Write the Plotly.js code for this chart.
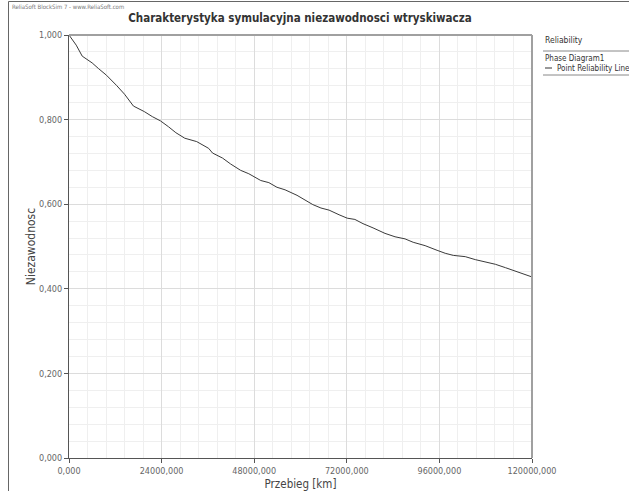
<!DOCTYPE html>
<html>
<head>
<meta charset="utf-8">
<script src="https://cdn.plot.ly/plotly-3.0.1.min.js"></script>
<style>html,body{margin:0;padding:0;background:#fff;}#chart{width:629px;height:491px;}</style>
</head>
<body>
<div id="chart"></div>
<script>
// Data
const przebiegKm = [0, 1.87e6, 3.43e6, 6.0e6, 7.6e6, 9.7e6, 12.3e6, 14.4e6, 16.7e6, 19.5e6, 21.6e6, 23.7e6, 25.8e6, 27.7e6, 30.0e6, 33.1e6, 36.2e6, 37.2e6, 39.8e6, 41.9e6, 44.5e6, 46.6e6, 49.7e6, 51.8e6, 53.9e6, 56.0e6, 59.1e6, 61.1e6, 63.2e6, 65.3e6, 67.4e6, 70.0e6, 72.1e6, 74.1e6, 76.2e6, 78.8e6, 81.9e6, 84.5e6, 87.1e6, 89.2e6, 92.3e6, 95.4e6, 97.5e6, 99.6e6, 102.7e6, 105.3e6, 107.9e6, 110.5e6, 113.1e6, 115.7e6, 117.8e6, 120e6];
const niezawodnosc = [1.0, 0.976, 0.950, 0.934, 0.921, 0.905, 0.881, 0.860, 0.832, 0.819, 0.807, 0.797, 0.783, 0.769, 0.756, 0.748, 0.732, 0.721, 0.709, 0.695, 0.680, 0.672, 0.656, 0.651, 0.640, 0.634, 0.621, 0.611, 0.599, 0.591, 0.586, 0.575, 0.567, 0.564, 0.554, 0.544, 0.531, 0.523, 0.518, 0.510, 0.502, 0.491, 0.484, 0.479, 0.476, 0.469, 0.463, 0.458, 0.450, 0.442, 0.436, 0.428];
const xTickVals = [0, 24000000, 48000000, 72000000, 96000000, 120000000];
const xTickText = ['0,000', '24000,000', '48000,000', '72000,000', '96000,000', '120000,000'];
const yTickVals = [0, 0.2, 0.4, 0.6, 0.8, 1.0];
const yTickText = ['0,000', '0,200', '0,400', '0,600', '0,800', '1,000'];

const W = 629, H = 491;
const L = 69, R = 532, T = 35, B = 458;
const px = x => (x - L) / (R - L);
const py = y => (B - y) / (B - T);
const FONT = 'DejaVu Sans Condensed, DejaVu Sans, sans-serif';

const trace = {
  x: przebiegKm, y: niezawodnosc, type: 'scatter', mode: 'lines',
  line: {color: '#3a3a3a', width: 1}, showlegend: false, hoverinfo: 'skip'
};

const layout = {
  width: W, height: H,
  margin: {l: L, r: W - R, t: T, b: H - B, pad: 0},
  paper_bgcolor: '#ffffff', plot_bgcolor: '#ffffff',
  showlegend: false,
  font: {family: FONT, color: '#555', size: 9},
  title: {text: 'Charakterystyka symulacyjna niezawodnosci wtryskiwacza',
          font: {family: FONT, size: 11.5, color: '#333', weight: 'bold'},
          x: px(300), xref: 'paper', xanchor: 'center', y: 1 - 18 / H, yanchor: 'middle'},
  xaxis: {
    range: [0, 120000000], tickvals: xTickVals, ticktext: xTickText,
    showline: true, linecolor: '#555', linewidth: 1,
    ticks: 'outside', ticklen: 4, tickcolor: '#555',
    showgrid: true, gridcolor: '#dcdcdc', gridwidth: 1, zeroline: false,
    minor: {dtick: 4800000, showgrid: true, gridcolor: '#efefef', gridwidth: 1, ticks: ''},
    tickfont: {family: FONT, size: 9, color: '#666'},
    title: {text: 'Przebieg [km]', font: {family: FONT, size: 11.5, color: '#444'}, standoff: 6}
  },
  yaxis: {
    range: [0, 1], tickvals: yTickVals, ticktext: yTickText,
    showline: true, linecolor: '#555', linewidth: 1,
    ticks: 'outside', ticklen: 4, tickcolor: '#555',
    showgrid: true, gridcolor: '#dcdcdc', gridwidth: 1, zeroline: false,
    minor: {dtick: 0.04, showgrid: true, gridcolor: '#efefef', gridwidth: 1, ticks: ''},
    tickfont: {family: FONT, size: 9, color: '#666'},
    title: {text: 'Niezawodnosc', font: {family: FONT, size: 12, color: '#444'}, standoff: 0}
  },
  shapes: [
    {type: 'line', xref: 'paper', yref: 'paper', x0: 0, x1: 1, y0: 1, y1: 1, line: {color: '#a0a0a0', width: 2}},
    {type: 'line', xref: 'paper', yref: 'paper', x0: 1, x1: 1, y0: 0, y1: 1, line: {color: '#a0a0a0', width: 2}},
    {type: 'line', xref: 'paper', yref: 'paper', x0: px(8.5), x1: px(8.5), y0: py(1.5), y1: py(495), line: {color: '#666', width: 1}},
    {type: 'line', xref: 'paper', yref: 'paper', x0: px(8.5), x1: px(640), y0: py(1.5), y1: py(1.5), line: {color: '#666', width: 1}},
    {type: 'line', xref: 'paper', yref: 'paper', x0: px(543), x1: px(640), y0: py(51), y1: py(51), line: {color: '#888', width: 1}},
    {type: 'line', xref: 'paper', yref: 'paper', x0: px(543), x1: px(640), y0: py(75), y1: py(75), line: {color: '#888', width: 1}},
    {type: 'line', xref: 'paper', yref: 'paper', x0: px(545), x1: px(552), y0: py(68), y1: py(68), line: {color: '#333', width: 1}}
  ],
  annotations: [
    {text: 'ReliaSoft BlockSim 7 - www.ReliaSoft.com', xref: 'paper', yref: 'paper', x: px(10), y: py(6), xanchor: 'left', yanchor: 'middle', showarrow: false, font: {family: FONT, size: 6, color: '#777'}},
    {text: 'Reliability', xref: 'paper', yref: 'paper', x: px(543), y: py(40), xanchor: 'left', yanchor: 'middle', showarrow: false, font: {family: FONT, size: 8.5, color: '#333'}},
    {text: 'Phase Diagram1', xref: 'paper', yref: 'paper', x: px(543), y: py(59), xanchor: 'left', yanchor: 'middle', showarrow: false, font: {family: FONT, size: 8, color: '#333'}},
    {text: 'Point Reliability Line', xref: 'paper', yref: 'paper', x: px(555), y: py(68), xanchor: 'left', yanchor: 'middle', showarrow: false, font: {family: FONT, size: 8, color: '#333'}}
  ]
};

Plotly.newPlot('chart', [trace], layout, {staticPlot: true, displayModeBar: false});
</script>
</body>
</html>
